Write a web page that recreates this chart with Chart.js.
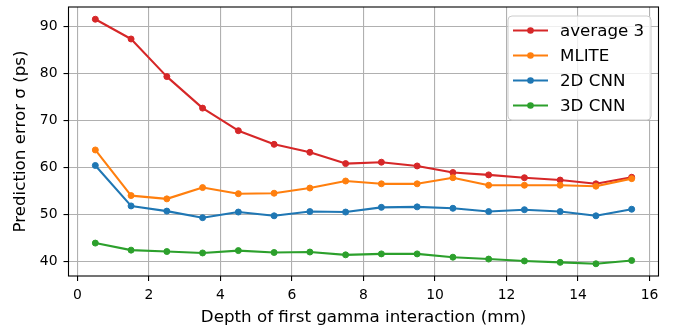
<!DOCTYPE html>
<html>
<head>
<meta charset="utf-8">
<script src="https://cdn.jsdelivr.net/npm/chart.js@4/dist/chart.umd.min.js"></script>
<style>
  html, body { margin: 0; padding: 0; background: #ffffff; }
  #wrap { width: 675px; height: 328px; position: relative; }
</style>
</head>
<body>
<div id="wrap"><canvas id="c" width="675" height="328"></canvas></div>
<script>
// ---- data ----
const depths = [0.5, 1.5, 2.5, 3.5, 4.5, 5.5, 6.5, 7.5, 8.5, 9.5, 10.5, 11.5, 12.5, 13.5, 14.5, 15.5];
const average3 = [91.5, 87.3, 79.3, 72.6, 67.8, 64.9, 63.2, 60.8, 61.1, 60.3, 58.9, 58.4, 57.8, 57.3, 56.5, 57.9];
const mlite    = [63.7, 54.0, 53.3, 55.7, 54.4, 54.5, 55.6, 57.1, 56.5, 56.5, 57.8, 56.2, 56.2, 56.2, 56.0, 57.6];
const cnn2d    = [60.4, 51.8, 50.7, 49.3, 50.5, 49.7, 50.6, 50.5, 51.5, 51.6, 51.3, 50.6, 51.0, 50.6, 49.7, 51.1];
const cnn3d    = [43.9, 42.4, 42.1, 41.8, 42.3, 41.9, 42.0, 41.4, 41.6, 41.6, 40.9, 40.5, 40.1, 39.8, 39.5, 40.2];
const seriesLabels = ['average 3', 'MLITE', '2D CNN', '3D CNN'];
const seriesColors = ['#d62728', '#ff7f0e', '#1f77b4', '#2ca02c'];
const xTickStep = 2;
const yTickStep = 10;
const xTitle = 'Depth of first gamma interaction (mm)';
const yTitle = 'Prediction error σ (ps)';

const seriesValues = [average3, mlite, cnn2d, cnn3d];
const FONT = 'DejaVu Sans';
const TEXT = '#000000';

// matplotlib-like 5% margins
const allY = seriesValues.flat();
const yMinD = Math.min(...allY), yMaxD = Math.max(...allY);
const xMinD = Math.min(...depths), xMaxD = Math.max(...depths);
const yPad = (yMaxD - yMinD) * 0.05, xPad = (xMaxD - xMinD) * 0.05;

const datasets = seriesValues.map((vals, i) => ({
  label: seriesLabels[i],
  data: depths.map((d, k) => ({ x: d, y: vals[k] })),
  borderColor: seriesColors[i],
  backgroundColor: seriesColors[i],
  pointBackgroundColor: seriesColors[i],
  pointBorderColor: seriesColors[i],
  borderWidth: 2.1,
  pointRadius: 3,
  pointBorderWidth: 1,
  borderJoinStyle: 'round',
  tension: 0,
  order: seriesValues.length - i
}));

const framePlugin = {
  id: 'frame',
  afterDatasetsDraw(chart) {
    const { ctx, chartArea: a } = chart;
    ctx.save();
    ctx.strokeStyle = '#000000';
    ctx.lineWidth = 1.1;
    ctx.strokeRect(a.left, a.top, a.right - a.left, a.bottom - a.top);
    ctx.restore();
  }
};

const legendPlugin = {
  id: 'mplLegend',
  afterDraw(chart) {
    const { ctx, chartArea: a } = chart;
    const w = 143, h = 104, r = 4;
    const x0 = a.right - 7.5 - w, y0 = a.top + 9;
    ctx.save();
    ctx.beginPath();
    ctx.moveTo(x0 + r, y0);
    ctx.lineTo(x0 + w - r, y0);
    ctx.arcTo(x0 + w, y0, x0 + w, y0 + r, r);
    ctx.lineTo(x0 + w, y0 + h - r);
    ctx.arcTo(x0 + w, y0 + h, x0 + w - r, y0 + h, r);
    ctx.lineTo(x0 + r, y0 + h);
    ctx.arcTo(x0, y0 + h, x0, y0 + h - r, r);
    ctx.lineTo(x0, y0 + r);
    ctx.arcTo(x0, y0, x0 + r, y0, r);
    ctx.closePath();
    ctx.fillStyle = 'rgba(255,255,255,0.8)';
    ctx.fill();
    ctx.strokeStyle = '#cccccc';
    ctx.lineWidth = 1;
    ctx.stroke();
    chart.data.datasets.forEach((ds, i) => {
      const cy = y0 + 14.5 + i * 25;
      const lx = x0 + 5, lw = 35;
      ctx.strokeStyle = ds.borderColor;
      ctx.lineWidth = 2.1;
      ctx.beginPath();
      ctx.moveTo(lx, cy);
      ctx.lineTo(lx + lw, cy);
      ctx.stroke();
      ctx.fillStyle = ds.borderColor;
      ctx.beginPath();
      ctx.arc(lx + lw / 2, cy, 3.3, 0, Math.PI * 2);
      ctx.fill();
      ctx.fillStyle = TEXT;
      ctx.font = '16.7px "' + FONT + '"';
      ctx.textAlign = 'left';
      ctx.textBaseline = 'middle';
      ctx.fillText(ds.label, x0 + 52, cy + 1);
    });
    ctx.restore();
  }
};

new Chart(document.getElementById('c'), {
  type: 'line',
  data: { datasets },
  plugins: [framePlugin, legendPlugin],
  options: {
    responsive: false,
    animation: false,
    devicePixelRatio: 1,
    layout: { padding: { left: 0, top: 7, right: 16.5, bottom: 0 } },
    plugins: { legend: { display: false }, tooltip: { enabled: false } },
    scales: {
      x: {
        type: 'linear',
        min: xMinD - xPad,
        max: xMaxD + xPad,
        afterFit(s) { s.height = 52; s.paddingLeft = 0; s.paddingRight = 0; },
        border: { display: false },
        grid: { color: '#b0b0b0', lineWidth: 1.1, drawTicks: true, tickLength: 5, tickColor: '#000000', tickWidth: 1.1 },
        ticks: { stepSize: xTickStep, includeBounds: false, padding: 6, color: TEXT, font: { family: FONT, size: 13.9 }, maxRotation: 0, autoSkip: false },
        title: { display: true, text: xTitle, color: TEXT, font: { family: FONT, size: 16.7 }, padding: { top: 0, bottom: 0 } }
      },
      y: {
        type: 'linear',
        min: yMinD - yPad,
        max: yMaxD + yPad,
        afterFit(s) { s.width = 68.5; s.paddingTop = 0; s.paddingBottom = 0; },
        border: { display: false },
        grid: { color: '#b0b0b0', lineWidth: 1.1, drawTicks: true, tickLength: 5, tickColor: '#000000', tickWidth: 1.1 },
        ticks: { stepSize: yTickStep, includeBounds: false, padding: 6, color: TEXT, font: { family: FONT, size: 13.9 } },
        title: { display: true, text: yTitle, color: TEXT, font: { family: FONT, size: 16.7 }, padding: { top: 11, bottom: 0 } }
      }
    }
  }
});
</script>
</body>
</html>
